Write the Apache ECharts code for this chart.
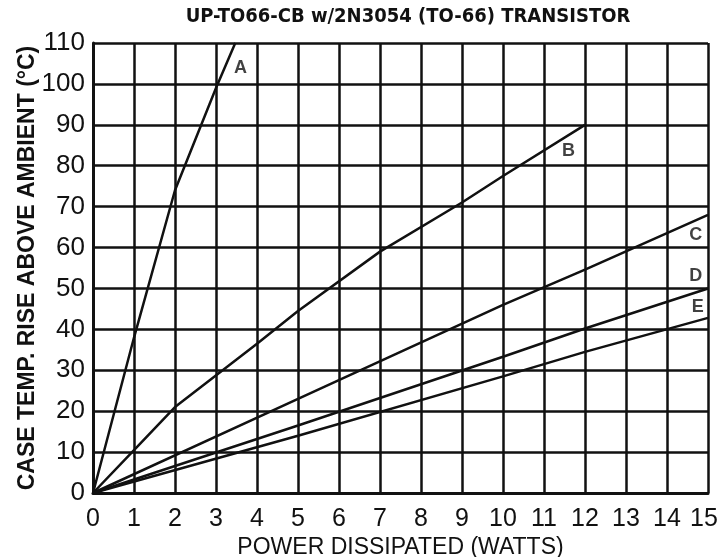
<!DOCTYPE html>
<html>
<head>
    <meta charset="utf-8">
    <title>UP-TO66-CB</title>
    <style>
        body { margin: 0; background: #fff; }
    </style>
</head>
<body>
<!-- chart container -->
<div id="main" style="width: 718px;height:557px;"></div>

<script src="https://cdn.jsdelivr.net/npm/echarts@6/dist/echarts.min.js"></script>

<script type="text/javascript">
// curve data: [watts, degC]
var curveA = [[0, 0], [1, 38], [2, 74], [3, 99], [3.47, 110]];
var curveB = [[0, 0], [1, 10.5], [2, 21], [4, 36.5], [5, 44.5], [7, 59], [9, 71], [10, 77.5], [12, 90]];
var curveC = [[0, 0], [5, 23], [10, 46], [12, 54.6], [15, 68]];
var curveD = [[0, 0], [5, 16.5], [10, 33.3], [12, 40.2], [15, 50]];
var curveE = [[0, 0], [5, 14], [10, 28.5], [12, 34.5], [15, 42.8]];

var curveNames = ['A', 'B', 'C', 'D', 'E'];
// where each curve letter sits
var letterAt = [[3.6, 104], [11.6, 83.5], [14.7, 63], [14.7, 53], [14.75, 45.5]];

var xTicks = [0, 15, 1];
var yTicks = [0, 110, 10];

var narrow = '"DejaVu Sans Condensed", "Liberation Sans", sans-serif';
var sans = '"Liberation Sans", Arial, sans-serif';

var myChart = echarts.init(document.getElementById('main'));

var lineSeries = [curveA, curveB, curveC, curveD, curveE].map(function (d, i) {
    return {
        name: curveNames[i],
        type: 'line',
        data: d,
        symbol: 'none',
        lineStyle: { color: '#111', width: 2.5 },
        z: 3
    };
});

// letters as an invisible scatter with labels
lineSeries.push({
    type: 'scatter',
    symbolSize: 0,
    data: letterAt.map(function (p, i) { return [p[0], p[1], curveNames[i]]; }),
    label: {
        show: true,
        position: 'inside',
        formatter: function (p) { return p.value[2]; },
        color: '#111',
        fontFamily: sans,
        fontSize: 18,
        fontWeight: 'bold'
    },
    z: 4
});

var gridLine = { show: true, lineStyle: { color: '#111', width: 2.5 } };

var option = {
    backgroundColor: '#fff',
    animation: false,
    title: {
        text: 'UP-TO66-CB w/2N3054 (TO-66) TRANSISTOR',
        left: 403,
        textAlign: 'center',
        top: 2,
        textStyle: { fontFamily: narrow, fontSize: 20, fontWeight: 'bold', color: '#111' }
    },
    grid: { left: 93, right: 10, top: 43, bottom: 64, outerBoundsMode: 'none' },
    xAxis: {
        type: 'value',
        min: xTicks[0], max: xTicks[1], interval: xTicks[2],
        name: 'POWER DISSIPATED (WATTS)',
        nameLocation: 'middle',
        nameGap: 43,
        nameMoveOverlap: false,
        nameTextStyle: { fontFamily: sans, fontSize: 23, color: '#111' },
        axisLine: { show: true, lineStyle: { color: '#111', width: 3 } },
        axisTick: { show: false },
        axisLabel: {
            fontFamily: sans, fontSize: 25, color: '#111', margin: 14,
            // last label is nudged left so it stays inside the page
            formatter: function (v) { return v === xTicks[1] ? '{last|' + v + '}' : v; },
            rich: { last: { fontFamily: sans, fontSize: 25, color: '#111', padding: [0, 8, 0, 0] } }
        },
        splitLine: gridLine
    },
    yAxis: {
        type: 'value',
        min: yTicks[0], max: yTicks[1], interval: yTicks[2],
        name: 'CASE TEMP. RISE ABOVE AMBIENT (°C)',
        nameLocation: 'middle',
        nameGap: 54,
        nameMoveOverlap: false,
        nameTextStyle: { fontFamily: sans, fontSize: 23, fontWeight: 'bold', color: '#111' },
        axisLine: { show: true, lineStyle: { color: '#111', width: 3 } },
        axisTick: { show: false },
        axisLabel: { fontFamily: sans, fontSize: 26, color: '#111', margin: 8 },
        splitLine: gridLine
    },
    series: lineSeries
};

myChart.setOption(option);
</script>
</body>
</html>
